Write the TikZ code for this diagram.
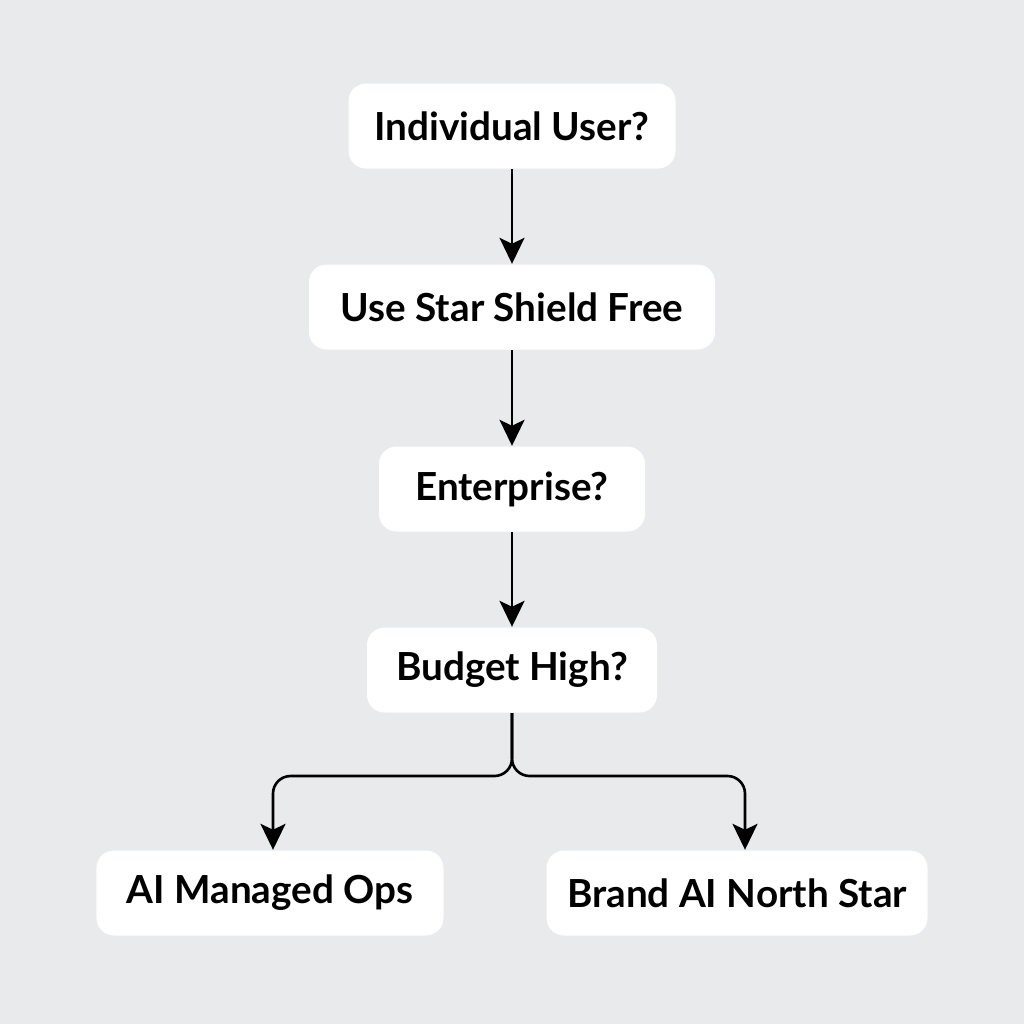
\documentclass[tikz,border=0pt]{standalone}
\usepackage{fontspec}
\setmainfont{Lato}
\usepackage{tikz}
\usetikzlibrary{arrows.meta,positioning}
\definecolor{bgcol}{HTML}{E9EAEB}

\begin{document}
\begin{tikzpicture}[
  every node/.style={align=center, font=\fontsize{11}{13}\selectfont\bfseries},
  box/.style={fill=white, rounded corners=5pt, minimum height=0.85cm,
              inner sep=0pt},
  arr/.style={-{Stealth[length=2.6mm, width=2.5mm, inset=0.6mm]}, line width=0.75pt},
]
  % Background
  \fill[bgcol] (0,0) rectangle (10.24,-10.24);

  % Decision chain
  \node[box, minimum width=3.27cm] (indiv)  at (5.12,-1.26) {Individual User?};
  \node[box, minimum width=4.06cm] (shield) at (5.12,-3.07) {Use Star Shield Free};
  \node[box, minimum width=2.66cm] (ent)    at (5.12,-4.89) {Enterprise?};
  \node[box, minimum width=2.90cm] (budget) at (5.12,-6.70) {Budget High?};

  % Bottom row: outcomes
  \node[box, minimum width=3.47cm] (ops)   at (2.70,-8.93) {AI Managed Ops};
  \node[box, minimum width=3.81cm] (north) at (7.37,-8.93) {Brand AI North Star};

  % Arrows down the chain
  \draw[arr] (indiv) -- (shield);
  \draw[arr] (shield) -- (ent);
  \draw[arr] (ent) -- (budget);

  % Split below the budget box
  \coordinate (split) at (5.12,-7.76);
  \draw[arr, rounded corners=5pt] (budget.south) -- (split) -| ([xshift=0.03cm]ops.north);
  \draw[arr, rounded corners=5pt] (budget.south) -- (split) -| ([xshift=0.08cm]north.north);
\end{tikzpicture}
\end{document}
